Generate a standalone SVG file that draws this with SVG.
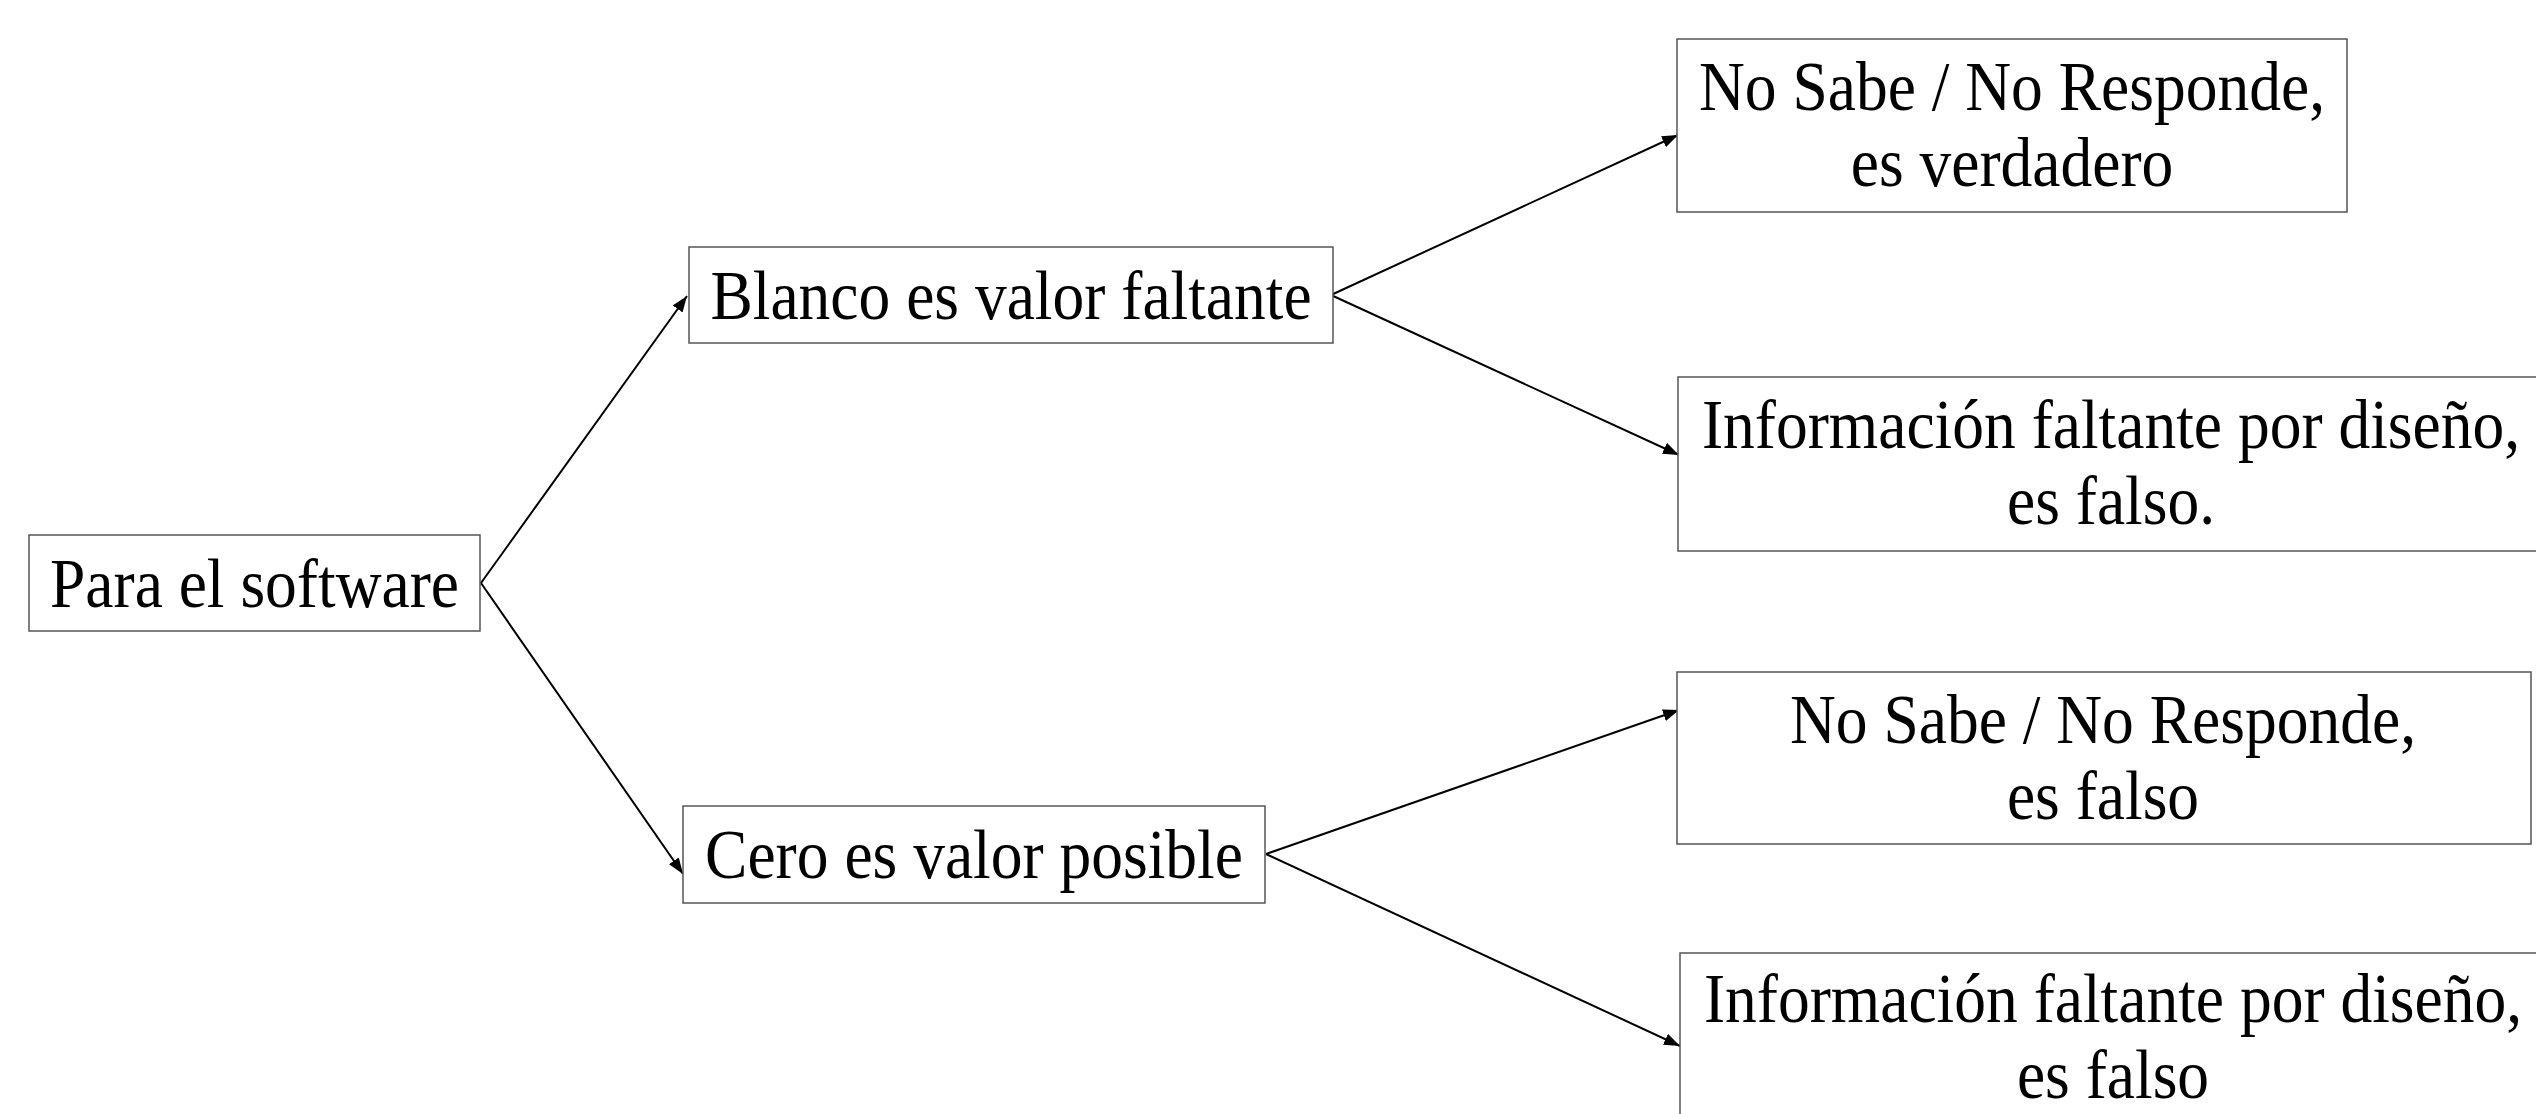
<svg xmlns="http://www.w3.org/2000/svg" width="2536" height="1114" viewBox="0 0 2536 1114">
  <style>
    .box { fill: #ffffff; stroke: #555555; stroke-width: 1.5; }
    .lbl { font-family: "Liberation Serif", "Times New Roman", serif; font-size: 63.5px; fill: #000000; text-anchor: middle; }
    .conn { stroke: #000000; stroke-width: 2; fill: none; marker-end: url(#arrow); }
  </style>
  <defs>
    <marker id="arrow" markerUnits="userSpaceOnUse" markerWidth="17" markerHeight="12" refX="16" refY="6" orient="auto">
      <path d="M0,0 L16,6 L0,12 Z" fill="#000000"/>
    </marker>
  </defs>
  <rect width="2536" height="1114" fill="#ffffff"/>

  <g id="connectors">
    <line class="conn" x1="481" y1="583" x2="687" y2="296"/>
    <line class="conn" x1="481" y1="583" x2="683" y2="874"/>
    <line class="conn" x1="1331" y1="295" x2="1678" y2="135"/>
    <line class="conn" x1="1331" y1="295" x2="1679" y2="455"/>
    <line class="conn" x1="1266" y1="854" x2="1679" y2="710"/>
    <line class="conn" x1="1266" y1="854" x2="1680" y2="1046"/>
  </g>

  <g id="node-para">
    <rect class="box" x="29" y="535" width="451" height="96"/>
    <text class="lbl" transform="translate(254.5,607) scale(1,1.1)">Para el software</text>
  </g>

  <g id="node-blanco">
    <rect class="box" x="689" y="247" width="644" height="96"/>
    <text class="lbl" transform="translate(1011,319) scale(1,1.1)">Blanco es valor faltante</text>
  </g>

  <g id="node-cero">
    <rect class="box" x="683" y="806" width="582" height="97"/>
    <text class="lbl" transform="translate(974,878) scale(1,1.1)">Cero es valor posible</text>
  </g>

  <g id="node-nsnr-verdadero">
    <rect class="box" x="1677" y="39" width="670" height="173"/>
    <text class="lbl" transform="translate(2012,110) scale(1,1.1)">No Sabe / No Responde,</text>
    <text class="lbl" transform="translate(2012,186) scale(1,1.1)">es verdadero</text>
  </g>

  <g id="node-info-falso-1">
    <rect class="box" x="1678" y="377" width="867" height="174"/>
    <text class="lbl" transform="translate(2111,448) scale(1,1.1)">Información faltante por diseño,</text>
    <text class="lbl" transform="translate(2111,524) scale(1,1.1)">es falso.</text>
  </g>

  <g id="node-nsnr-falso">
    <rect class="box" x="1677" y="672" width="854" height="172"/>
    <text class="lbl" transform="translate(2103,743) scale(1,1.1)">No Sabe / No Responde,</text>
    <text class="lbl" transform="translate(2103,819) scale(1,1.1)">es falso</text>
  </g>

  <g id="node-info-falso-2">
    <rect class="box" x="1680" y="953" width="867" height="174"/>
    <text class="lbl" transform="translate(2113,1022) scale(1,1.1)">Información faltante por diseño,</text>
    <text class="lbl" transform="translate(2113,1098) scale(1,1.1)">es falso</text>
  </g>
</svg>
